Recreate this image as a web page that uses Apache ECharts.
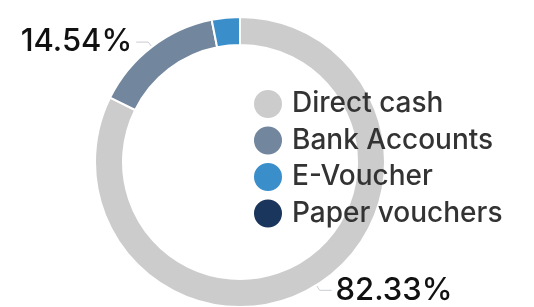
<!DOCTYPE html>
<html>
<head>
<meta charset="utf-8">
<script src="https://cdn.jsdelivr.net/npm/echarts@6/dist/echarts.min.js"></script>
<style>
  html, body { margin: 0; padding: 0; background: #fff; }
  #chart { width: 534px; height: 307px; }
</style>
</head>
<body>
<div id="chart"></div>
<script>
var categories = ['Direct cash', 'Bank Accounts', 'E-Voucher', 'Paper vouchers'];
var values = [82.33, 14.54, 3.13, 0];
var colors = ['#cccccc', '#72869e', '#3a8fcb', '#1b365d'];
var labelled = ['Direct cash', 'Bank Accounts'];

var myChart = echarts.init(document.getElementById('chart'));

var data = categories.map(function (name, i) {
    var show = labelled.indexOf(name) >= 0;
    return {
        name: name,
        value: values[i],
        itemStyle: { color: colors[i] },
        label: { show: show },
        labelLine: { show: show }
    };
});

var option = {
    animation: false,
    legend: {
        orient: 'vertical',
        left: 252,
        top: 88,
        padding: 0,
        icon: 'circle',
        itemWidth: 30,
        itemHeight: 30,
        itemGap: 4.5,
        selectedMode: false,
        data: categories,
        textStyle: {
            fontFamily: 'Inter',
            fontWeight: 500,
            fontSize: 28,
            lineHeight: 30,
            color: '#333333',
            padding: [0, 0, 0, 4]
        }
    },
    series: [{
        type: 'pie',
        center: [240, 162],
        radius: [117, 145],
        startAngle: 90,
        clockwise: true,
        avoidLabelOverlap: false,
        data: data,
        itemStyle: { borderColor: '#fff', borderWidth: 2 },
        label: {
            position: 'outside',
            formatter: function (p) { return p.value.toFixed(2) + '%'; },
            fontFamily: 'Inter',
            fontWeight: 500,
            fontSize: 31,
            color: '#111111',
            distanceToLabelLine: 4
        },
        labelLine: {
            length: 6,
            length2: 12,
            lineStyle: { color: '#c8ccd2', width: 1 }
        }
    }]
};

myChart.setOption(option);
</script>
</body>
</html>
